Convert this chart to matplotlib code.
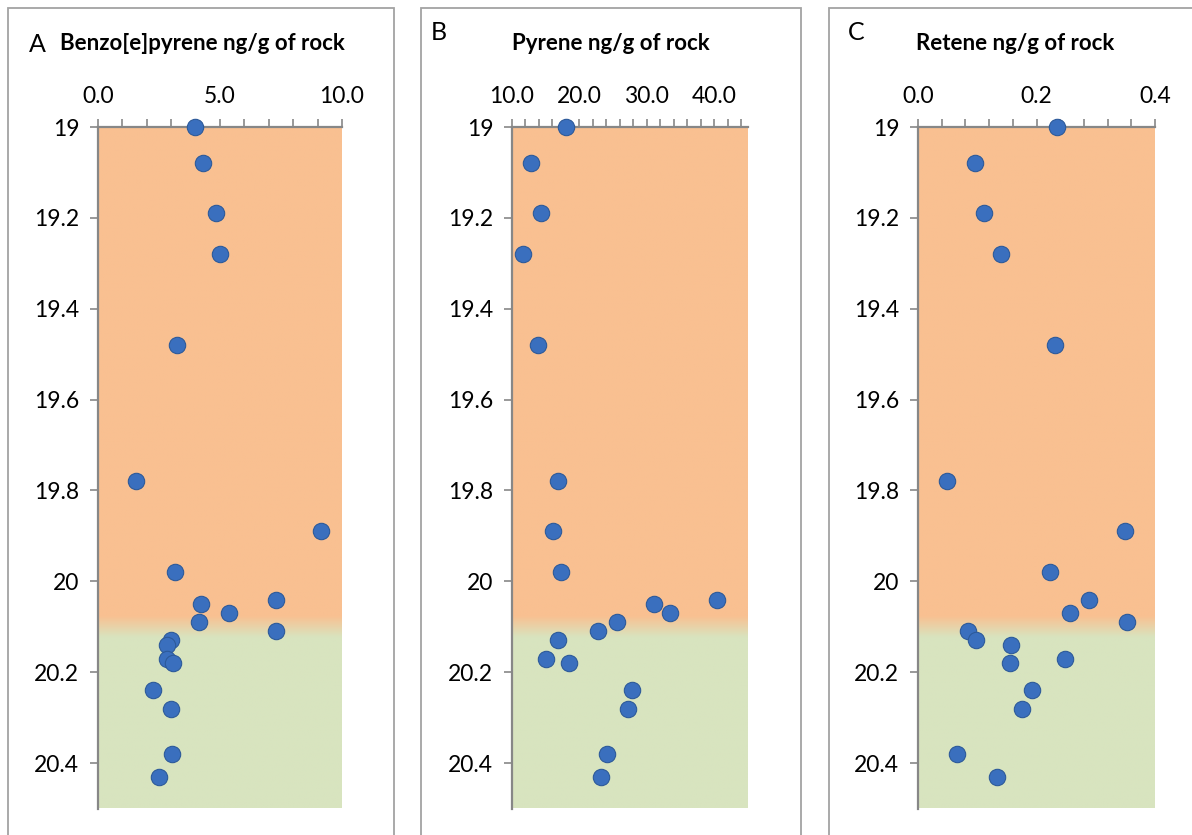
import numpy as np
import matplotlib
matplotlib.use("Agg")
import matplotlib.pyplot as plt
from matplotlib.colors import LinearSegmentedColormap
from matplotlib.patches import Rectangle
from matplotlib.ticker import MultipleLocator, FormatStrFormatter

plt.rcParams['font.family'] = ['Lato', 'DejaVu Sans']

# ---------------- data ----------------
depth = [19.00, 19.08, 19.19, 19.28, 19.48, 19.78, 19.89, 19.98, 20.04, 20.05,
         20.07, 20.09, 20.11, 20.13, 20.14, 20.17, 20.18, 20.24, 20.28, 20.38, 20.43]

benzo_e_pyrene = [3.98, 4.30, 4.84, 5.00, 3.24, 1.56, 9.14, 3.17, 7.30, 4.23,
                  5.36, 4.13, 7.31, 2.98, 2.82, 2.82, 3.09, 2.24, 2.98, 3.03, 2.49]

pyrene = [18.0, 12.8, 14.3, 11.6, 13.9, 16.8, 16.1, 17.2, 40.4, 31.0,
          33.4, 25.5, 22.7, 16.8, np.nan, 15.1, 18.5, 27.8, 27.2, 24.1, 23.2]

retene = [0.235, 0.096, 0.111, 0.140, 0.231, 0.049, 0.349, 0.223, 0.288, np.nan,
          0.256, 0.353, 0.085, 0.098, 0.157, 0.248, 0.156, 0.193, 0.176, 0.065, 0.133]

panel_letters = ["A", "B", "C"]
panel_titles = ["Benzo[e]pyrene ng/g of rock", "Pyrene ng/g of rock", "Retene ng/g of rock"]
x_limits = [(0, 10), (10, 45), (0, 0.4)]
x_major = [5, 10, 0.2]
x_minor = [1, 2, 0.04]
y_limits = (19.0, 20.5)
y_ticks = [19, 19.2, 19.4, 19.6, 19.8, 20, 20.2, 20.4]
y_tick_labels = ["19", "19.2", "19.4", "19.6", "19.8", "20", "20.2", "20.4"]

# zone boundary (orange above, green below) with transition band
zone_top, zone_bottom = 20.078, 20.125
orange = "#F9C091"
green = "#D8E4BF"

series = [benzo_e_pyrene, pyrene, retene]

# ---------------- layout (pixels) ----------------
W, H = 1192, 835
fig = plt.figure(figsize=(W / 100, H / 100), dpi=100)

plot_boxes = [(98, 342), (512, 748), (918, 1155)]
plot_top, plot_bot = 127, 808.5
frames = [(8, 394), (421, 801), (829, 1250)]
letter_pos = [(29, 44), (431, 33), (848, 33)]
title_pos = [(60, 44, 'left'), (611, 44, 'center'), (1015, 44, 'center')]

def fx(px):
    return px / W

def fy(py):
    return 1 - py / H

# frames
for (l, r) in frames:
    rect = Rectangle((fx(l), fy(900)), fx(r) - fx(l), fy(8) - fy(900),
                     transform=fig.transFigure, fill=False,
                     edgecolor="#A3A3A3", linewidth=1.3, zorder=0)
    fig.patches.append(rect)

axis_grey = "#878787"
cmap = LinearSegmentedColormap.from_list("zone", [orange, green])

for i in range(3):
    l, r = plot_boxes[i]
    ax = fig.add_axes([fx(l), fy(plot_bot), fx(r) - fx(l), fy(plot_top) - fy(plot_bot)])
    x0, x1 = x_limits[i]
    # background gradient
    yy = np.linspace(y_limits[0], y_limits[1], 600)
    t = np.clip((yy - zone_top) / (zone_bottom - zone_top), 0, 1)
    ax.imshow(t[:, None], extent=(x0, x1, y_limits[0], y_limits[1]), origin='lower',
              aspect='auto', cmap=cmap, vmin=0, vmax=1, zorder=0, interpolation='bilinear')
    ax.plot(series[i], depth, linestyle='none', marker='o', markersize=11.8,
            markerfacecolor="#3A6FBE", markeredgecolor="#2D5A9A", markeredgewidth=0.8,
            zorder=3, clip_on=False)
    ax.set_xlim(x0, x1)
    ax.set_ylim(y_limits[1], y_limits[0])
    ax.xaxis.set_major_locator(MultipleLocator(x_major[i]))
    ax.xaxis.set_minor_locator(MultipleLocator(x_minor[i]))
    ax.xaxis.set_major_formatter(FormatStrFormatter('%.1f'))
    ax.set_yticks(y_ticks)
    ax.set_yticklabels(y_tick_labels)
    ax.xaxis.tick_top()
    for s in ['right', 'bottom']:
        ax.spines[s].set_visible(False)
    for s in ['top', 'left']:
        ax.spines[s].set_color(axis_grey)
        ax.spines[s].set_linewidth(1.6)
    ax.tick_params(axis='x', which='both', direction='out', length=5.5, width=1.2,
                   color=axis_grey, labelsize=16.5, pad=9, labelcolor='black')
    ax.tick_params(axis='y', which='major', direction='out', length=5.5, width=1.2,
                   color=axis_grey, labelsize=16.5, pad=8, labelcolor='black')
    ax.set_facecolor('none')

    lx, ly = letter_pos[i]
    fig.text(fx(lx), fy(ly), panel_letters[i], fontsize=18, va='center', ha='left')
    tx, ty, ha = title_pos[i]
    fig.text(fx(tx), fy(ty), panel_titles[i], fontsize=16, fontweight='bold',
             va='center', ha=ha)

fig.savefig("out.png", dpi=100)
